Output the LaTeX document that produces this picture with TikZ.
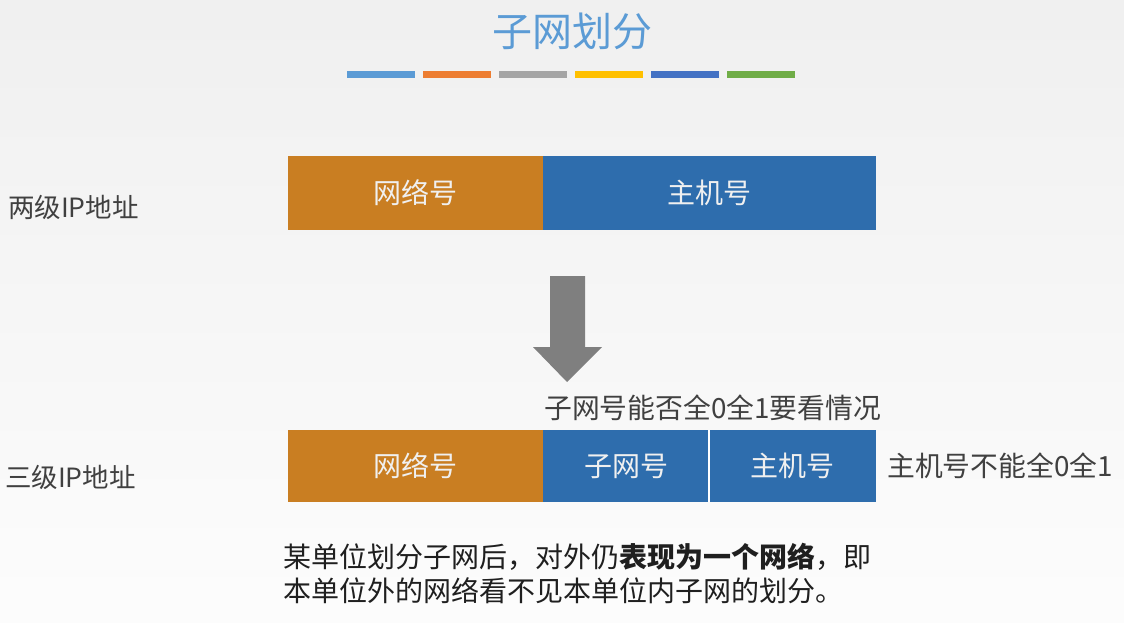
\documentclass[tikz,border=0pt]{standalone}
\usepackage{fontspec}
\setmainfont{Noto Sans CJK SC}
\usetikzlibrary{positioning}

\definecolor{titleblue}{HTML}{5B9BD5}
\definecolor{netorange}{HTML}{C97E22}
\definecolor{hostblue}{HTML}{2E6DAD}
\definecolor{labelgray}{HTML}{404040}
\definecolor{arrowgray}{HTML}{7F7F7F}
\definecolor{barorange}{HTML}{ED7D31}
\definecolor{bargray}{HTML}{A5A5A5}
\definecolor{baryellow}{HTML}{FFC000}
\definecolor{barblue}{HTML}{4472C4}
\definecolor{bargreen}{HTML}{70AD47}

\tikzset{
  field/.style={fill=#1, text=white!94!black, minimum height=\rowheight,
    inner sep=0pt, outer sep=0pt, font=\fontsize{28}{32}\selectfont},
  sidelabel/.style={inner sep=0pt, text=labelgray, font=\fontsize{26.5}{30}\selectfont},
  note/.style={inner sep=0pt, text=labelgray, font=\fontsize{27.8}{32}\selectfont},
}

\begin{document}
\begin{tikzpicture}[x=1pt,y=-1pt, node distance=0pt]
  \def\rowheight{74pt}
  \def\netwidth{255pt}

  % background
  \useasboundingbox (0,0) rectangle (1124,623);
  \shade[top color=black!6, bottom color=black!1] (0,0) rectangle (1124,623);

  % title and coloured rule
  \node[text=titleblue, font=\fontsize{40}{44}\selectfont] (title) at (572,31) {子网划分};
  \foreach \c [count=\i from 0] in {titleblue,barorange,bargray,baryellow,barblue,bargreen}{
    \fill[\c] (347+\i*76,71) rectangle ++(68,7);
  }

  % two level address
  \node[field=netorange, minimum width=\netwidth, anchor=north west] (net1) at (288,156) {网络号};
  \node[field=hostblue, minimum width=333pt, right=of net1] (host1) {主机号};
  \node[sidelabel, anchor=west] (two) at (8,207) {两级IP地址};

  % big arrow down
  \fill[arrowgray] (550,276) -- (585,276) -- (585,347) -- (602,347)
    -- (567,382) -- (533,347) -- (550,347) -- cycle;

  % three level address
  \node[note, anchor=west] (subnote) at (544,408) {子网号能否全0全1要看情况};
  \node[field=netorange, minimum width=\netwidth, minimum height=72pt, anchor=north west] (net2) at (288,430) {网络号};
  \node[field=hostblue, minimum width=166pt, minimum height=72pt, right=of net2] (sub2) {子网号};
  \node[field=hostblue, minimum width=167pt, minimum height=72pt, right=of sub2] (host2) {主机号};
  \draw[white, line width=1.2pt] (sub2.north east) -- (sub2.south east);
  \node[note, anchor=west, right=11pt of host2] (hostnote) {主机号不能全0全1};
  \node[sidelabel, anchor=west] (three) at (5,477) {三级IP地址};

  % remark below
  \node[inner sep=0pt, anchor=north west, align=left, text=black!88,
    font=\fontsize{28}{34}\selectfont] (remark) at (283,543)
    {某单位划分子网后，对外仍\textbf{表现为一个网络}，即\\本单位外的网络看不见本单位内子网的划分。};
\end{tikzpicture}
\end{document}
